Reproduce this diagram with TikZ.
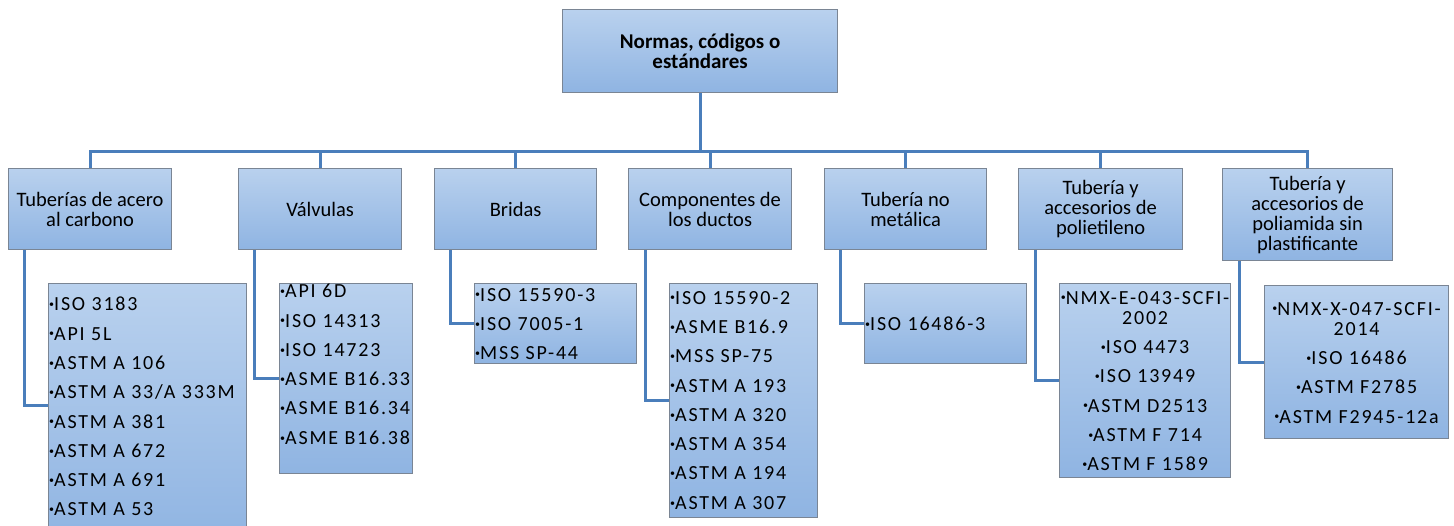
\documentclass[tikz,border=0pt]{standalone}
\usepackage{fontspec}
\setmainfont{Carlito}
\newfontfamily\itemfont[LetterSpace=9]{Carlito}
\newcommand{\bul}{\raisebox{3.2pt}{\fontsize{10}{10}\selectfont •}}
\definecolor{topc}{HTML}{B9D1EE}
\definecolor{botc}{HTML}{8FB4E2}
\definecolor{edgec}{HTML}{7A8594}
\definecolor{linec}{HTML}{4A7EBB}
\tikzset{
  box/.style={draw=edgec, line width=1.2pt, top color=topc, bottom color=botc, inner sep=0pt, anchor=north west, text=black},
  lvl/.style={box, font=\fontsize{20.5}{20}\selectfont, align=center, minimum height=81pt},
  conn/.style={draw=linec, line width=3pt},
  itm/.style={font=\itemfont\fontsize{20}{29.3}\selectfont, align=left, inner sep=0pt, anchor=north west},
  itmc/.style={font=\itemfont\fontsize{20}{20}\selectfont, align=center, inner sep=0pt, anchor=north},
}
\begin{document}
\begin{tikzpicture}[x=1pt,y=-1pt]
\useasboundingbox[fill=white] (0,0) rectangle (1454,526);
% top
\node[box, minimum width=275pt, minimum height=83pt, font=\bfseries\fontsize{21}{20}\selectfont, align=center] (top) at (562,9) {Normas, códigos o\\estándares};
% level 1
\node[lvl, minimum width=163pt] (b1) at (8,168) {Tuberías de acero\\al carbono};
\node[lvl, minimum width=163pt] (b2) at (238,168) {Válvulas};
\node[lvl, minimum width=162pt] (b3) at (434,168) {Bridas};
\node[lvl, minimum width=163pt] (b4) at (628,168) {Componentes de\\los ductos};
\node[lvl, minimum width=162pt] (b5) at (824,168) {Tubería no\\metálica};
\node[lvl, minimum width=164pt] (b6) at (1018,168) {Tubería y\\accesorios de\\polietileno};
\node[lvl, minimum width=170pt, minimum height=92pt] (b7) at (1222,168) {Tubería y\\accesorios de\\poliamida sin\\plastificante};
% bus
\foreach \b in {b1,b2,b3,b4,b5,b6,b7}{
  \draw[conn] (top.south) -- ++(0,58) -| (\b.north);
}
% level 2 boxes
\node[box, minimum width=198pt, minimum height=262pt] (iA) at (48,283) {};
\node[box, minimum width=133pt, minimum height=190pt] (iB) at (279,283) {};
\node[box, minimum width=162pt, minimum height=80pt] (iC) at (474,283) {};
\node[box, minimum width=148pt, minimum height=234pt] (iD) at (669,283) {};
\node[box, minimum width=162pt, minimum height=80pt] (iE) at (864,283) {};
\node[box, minimum width=171pt, minimum height=194pt] (iF) at (1059,283) {};
\node[box, minimum width=184pt, minimum height=153pt] (iG) at (1264,285) {};
% connectors
\draw[conn] ([xshift=16pt]b1.south west) |- ([yshift=-123pt]iA.north west);
\draw[conn] ([xshift=16pt]b2.south west) |- (iB.west);
\draw[conn] ([xshift=16pt]b3.south west) |- (iC.west);
\draw[conn] ([xshift=17pt]b4.south west) |- (iD.west);
\draw[conn] ([xshift=16pt]b5.south west) |- (iE.west);
\draw[conn] ([xshift=17pt]b6.south west) |- (iF.west);
\draw[conn] ([xshift=17pt]b7.south west) |- (iG.west);
% texts
\node[itm] (tA) at ([shift={(1pt,-14pt)}]iA.north west) {\bul ISO 3183\\\bul API 5L\\\bul ASTM A 106\\\bul ASTM A 33/A 333M\\\bul ASTM A 381\\\bul ASTM A 672\\\bul ASTM A 691\\\bul ASTM A 53};
\node[itm] (tB) at ([shift={(1pt,-1pt)}]iB.north west) {\bul API 6D\\\bul ISO 14313\\\bul ISO 14723\\\bul ASME B16.33\\\bul ASME B16.34\\\bul ASME B16.38};
\node[itm] (tC) at ([shift={(1pt,-5pt)}]iC.north west) {\bul ISO 15590-3\\\bul ISO 7005-1\\\bul MSS SP-44};
\node[itm] (tD) at ([shift={(1pt,-8pt)}]iD.north west) {\bul ISO 15590-2\\\bul ASME B16.9\\\bul MSS SP-75\\\bul ASTM A 193\\\bul ASTM A 320\\\bul ASTM A 354\\\bul ASTM A 194\\\bul ASTM A 307};
\node[itm] (tE) at ([shift={(1pt,-34pt)}]iE.north west) {\bul ISO 16486-3};
\node[itmc] (tF) at ([yshift=-8pt]iF.north) {\bul NMX-E-043-SCFI-\\2002\\[9.3pt]\bul ISO 4473\\[9.3pt]\bul ISO 13949\\[9.3pt]\bul ASTM D2513\\[9.3pt]\bul ASTM F 714\\[9.3pt]\bul ASTM F 1589};
\node[itmc] (tG) at ([yshift=-17pt]iG.north) {\bul NMX-X-047-SCFI-\\2014\\[9.3pt]\bul ISO 16486\\[9.3pt]\bul ASTM F2785\\[9.3pt]\bul ASTM F2945-12a};
\end{tikzpicture}
\end{document}
